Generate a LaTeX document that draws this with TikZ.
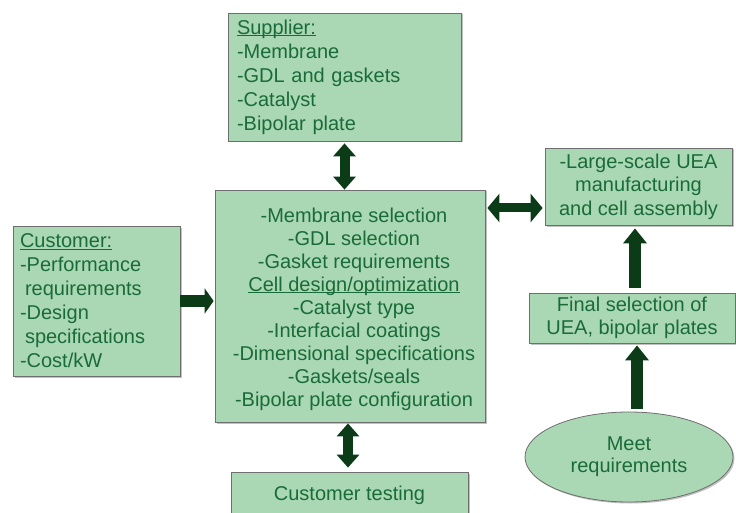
\documentclass[tikz,border=0pt]{standalone}
\usepackage{fontspec}
\setmainfont{Liberation Sans}
\usetikzlibrary{arrows.meta,shapes.geometric,shadows}
\definecolor{boxfill}{HTML}{AAD8B4}
\definecolor{boxtext}{HTML}{1A6B3A}
\definecolor{arrowc}{HTML}{0B3B17}
\definecolor{boxline}{HTML}{6E6E6E}
\newcommand\myul[1]{\setbox0\hbox{#1}\rlap{\rule[-2.2pt]{\wd0}{0.9pt}}\box0}
\tikzset{
  box/.style={draw=boxline, line width=0.8pt, fill=boxfill, text=boxtext,
    font=\fontsize{20}{24}\selectfont, inner sep=0pt,
    drop shadow={shadow xshift=1.5pt, shadow yshift=-1.5pt, fill=black!40, opacity=0.6}},
  txt/.style={text=boxtext, font=\fontsize{20}{23}\selectfont, inner sep=0pt},
  bigone/.style={draw=arrowc, line width=#1, line cap=butt},
  onehead/.style n args={2}{-{Triangle[width=#1,length=#2,fill=arrowc,color=arrowc]}},
  twohead/.style n args={2}{{Triangle[width=#1,length=#2,fill=arrowc,color=arrowc]}-{Triangle[width=#1,length=#2,fill=arrowc,color=arrowc]}}
}
\begin{document}
\begin{tikzpicture}[x=1pt,y=-1pt]
\useasboundingbox[fill=white] (0,0) rectangle (736,513);

% boxes
\node[box, minimum width=233pt, minimum height=128pt, align=left, text width=215pt] (supplier) at (344.5,77)
  {\myul{Supplier:}\\-Membrane\\-GDL and gaskets\\-Catalyst\\-Bipolar plate};

\node[box, minimum width=167pt, minimum height=150pt, align=left, text width=153pt] (customer) at (96.5,301)
  {\myul{Customer:}\\-Performance\\\hspace*{5pt}requirements\\-Design\\\hspace*{5pt}specifications\\-Cost/kW};

\node[box, minimum width=270pt, minimum height=232pt] (main) at (350,306) {};
\node[txt, align=center] (maintext) at (354,309)
  {-Membrane selection\\-GDL selection\\-Gasket requirements\\\myul{Cell design/optimization}\\-Catalyst type\\-Interfacial coatings\\-Dimensional specifications\\-Gaskets/seals\\-Bipolar plate configuration};

\node[box, minimum width=187pt, minimum height=77pt, align=center, font=\fontsize{20}{23.5}\selectfont] (large) at (638.5,186.5)
  {-Large-scale UEA\\manufacturing\\and cell assembly};

\node[box, minimum width=206pt, minimum height=50pt, align=center, font=\fontsize{20}{23}\selectfont] (final) at (632,318)
  {Final selection of\\UEA, bipolar plates};

\node[box, ellipse, minimum width=208pt, minimum height=90pt, align=center, font=\fontsize{20}{22}\selectfont] (meet) at (629,457)
  {Meet\\requirements};

\node[box, minimum width=237pt, minimum height=46pt] (testing) at (349.5,495) {Customer testing};

% connectors
\coordinate (hrow) at (0,208);
\draw[bigone=10pt, twohead={22pt}{13pt}, shorten <=2pt] (supplier.south) -- (supplier.south |- main.north);
\draw[bigone=12pt, onehead={25pt}{9pt}, shorten >=1pt] (customer.east) -- (customer.east -| main.west);
\draw[bigone=9pt, twohead={28pt}{12pt}, shorten <=2pt, shorten >=2pt] (main.east |- hrow) -- (large.west |- hrow);
\draw[bigone=12pt, onehead={23pt}{15pt}, shorten <=5pt, shorten >=3pt] ([xshift=3pt]final.north) -- ([xshift=3pt]final.north |- large.south);
\draw[bigone=12pt, onehead={23pt}{15pt}, shorten <=3pt, shorten >=2pt] ([xshift=8pt]meet.north) -- ([xshift=8pt]meet.north |- final.south);
\draw[bigone=10pt, twohead={22pt}{13pt}, shorten <=1pt, shorten >=4pt] ([xshift=-2pt]main.south) -- ([xshift=-2pt]main.south |- testing.north);
\end{tikzpicture}
\end{document}
